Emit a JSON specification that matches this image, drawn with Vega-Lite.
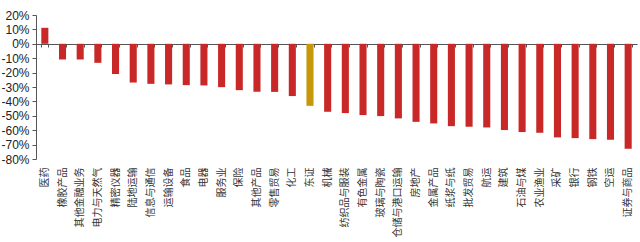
{
  "$schema": "https://vega.github.io/schema/vega-lite/v6.json",
  "width": 601,
  "height": 144,
  "autosize": {"type": "none"},
  "padding": {"left": 36, "top": 15, "right": 3, "bottom": 83},
  "background": "white",
  "config": {
    "view": {"stroke": null},
    "axis": {"grid": false, "labelColor": "#222222", "domainColor": "#555555", "tickColor": "#555555"}
  },
  "data": {
    "values": [
      {"sector": "医药", "pct": 11.1, "group": "行业"},
      {"sector": "橡胶产品", "pct": -10.9, "group": "行业"},
      {"sector": "其他金融业务", "pct": -10.9, "group": "行业"},
      {"sector": "电力与天然气", "pct": -13.2, "group": "行业"},
      {"sector": "精密仪器", "pct": -21.0, "group": "行业"},
      {"sector": "陆地运输", "pct": -26.9, "group": "行业"},
      {"sector": "信息与通信", "pct": -27.8, "group": "行业"},
      {"sector": "运输设备", "pct": -28.2, "group": "行业"},
      {"sector": "食品", "pct": -28.7, "group": "行业"},
      {"sector": "电器", "pct": -28.9, "group": "行业"},
      {"sector": "服务业", "pct": -30.1, "group": "行业"},
      {"sector": "保险", "pct": -32.2, "group": "行业"},
      {"sector": "其他产品", "pct": -33.3, "group": "行业"},
      {"sector": "零售贸易", "pct": -33.4, "group": "行业"},
      {"sector": "化工", "pct": -36.3, "group": "行业"},
      {"sector": "东证", "pct": -43.1, "group": "指数"},
      {"sector": "机械", "pct": -47.2, "group": "行业"},
      {"sector": "纺织品与服装", "pct": -48.1, "group": "行业"},
      {"sector": "有色金属", "pct": -49.5, "group": "行业"},
      {"sector": "玻璃与陶瓷", "pct": -50.2, "group": "行业"},
      {"sector": "仓储与港口运输", "pct": -51.8, "group": "行业"},
      {"sector": "房地产", "pct": -54.2, "group": "行业"},
      {"sector": "金属产品", "pct": -55.3, "group": "行业"},
      {"sector": "纸浆与纸", "pct": -57.2, "group": "行业"},
      {"sector": "批发贸易", "pct": -57.6, "group": "行业"},
      {"sector": "航运", "pct": -58.1, "group": "行业"},
      {"sector": "建筑", "pct": -59.9, "group": "行业"},
      {"sector": "石油与煤", "pct": -61.3, "group": "行业"},
      {"sector": "农业渔业", "pct": -61.8, "group": "行业"},
      {"sector": "采矿", "pct": -65.0, "group": "行业"},
      {"sector": "银行", "pct": -65.5, "group": "行业"},
      {"sector": "钢铁", "pct": -66.2, "group": "行业"},
      {"sector": "空运", "pct": -66.7, "group": "行业"},
      {"sector": "证券与商品", "pct": -72.9, "group": "行业"}
    ]
  },
  "encoding": {
    "x": {
      "field": "sector",
      "type": "nominal",
      "sort": null,
      "scale": {"paddingInner": 0.6, "paddingOuter": 0.3}
    }
  },
  "layer": [
    {
      "mark": {"type": "bar"},
      "encoding": {
        "x": {
          "field": "sector",
          "type": "nominal",
          "sort": null,
          "axis": {
            "orient": "top",
            "offset": -29,
            "labels": false,
            "title": null,
            "domain": true,
            "domainWidth": 1,
            "ticks": true,
            "tickBand": "extent",
            "tickSize": -3,
            "tickWidth": 1
          }
        },
        "y": {
          "field": "pct",
          "type": "quantitative",
          "scale": {"domain": [-80, 20], "nice": false},
          "axis": {
            "values": [20, 10, 0, -10, -20, -30, -40, -50, -60, -70, -80],
            "labelExpr": "datum.value + '%'",
            "labelFont": "Liberation Sans",
            "labelFontSize": 12,
            "labelPadding": 3,
            "tickSize": 4,
            "title": null,
            "domain": true
          }
        },
        "color": {
          "field": "group",
          "type": "nominal",
          "scale": {"domain": ["行业", "指数"], "range": ["#C82828", "#C8960A"]},
          "legend": null
        }
      }
    },
    {
      "mark": {"type": "rule", "strokeOpacity": 0},
      "encoding": {
        "x": {
          "field": "sector",
          "type": "nominal",
          "sort": null,
          "axis": {
            "orient": "bottom",
            "labelAngle": -90,
            "labelFont": "Noto Sans CJK SC",
            "labelFontSize": 10,
            "labelPadding": 8,
            "labelColor": "#333333",
            "domain": false,
            "ticks": false,
            "title": null
          }
        }
      }
    }
  ],
  "resolve": {"axis": {"x": "independent"}}
}
